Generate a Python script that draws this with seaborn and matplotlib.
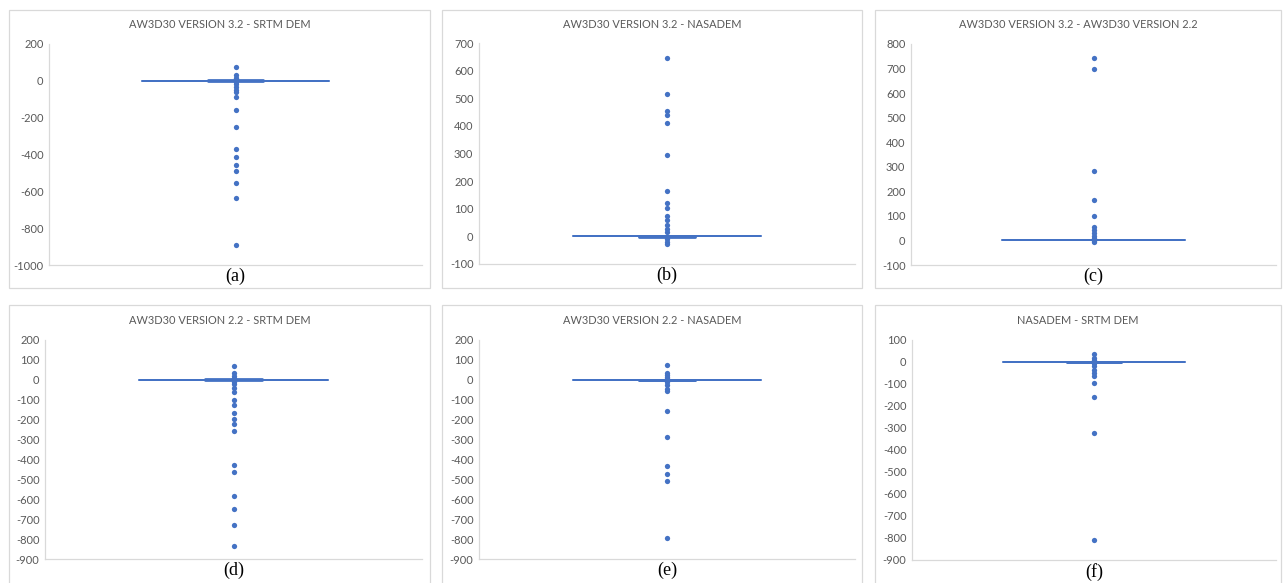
import matplotlib
matplotlib.use('Agg')
import matplotlib.pyplot as plt
import matplotlib.patches as patches
import seaborn as sns

# Titles and panel letters
titles = ['AW3D30 VERSION 3.2 - SRTM DEM', 'AW3D30 VERSION 3.2 - NASADEM',
          'AW3D30 VERSION 3.2 - AW3D30 VERSION 2.2', 'AW3D30 VERSION 2.2 - SRTM DEM',
          'AW3D30 VERSION 2.2 - NASADEM', 'NASADEM - SRTM DEM']
letters = ['(a)', '(b)', '(c)', '(d)', '(e)', '(f)']

# Dense cluster of differences near zero (the flat box)
core = [-3, -3, -2, -2, -2, -2, -1, -1, -1, -1, -1, -1, -1, -1, 0, 0, 0, 0, 0, 0,
        0, 0, 0, 0, 0, 0, 0, 0, 0, 0, 0, 0, 0, 0, 0, 0, 0, 0, 0, 0,
        0, 0, 0, 0, 0, 0, 1, 1, 1, 1, 1, 1, 1, 1, 2, 2, 2, 2, 3, 3]
core_flat = [0, 0, 0, 0, 0, 0, 0, 0, 0, 0, 0, 0, 0, 0, 0, 0, 0, 0, 0, 0,
             0, 0, 0, 0, 0, 0, 0, 0, 0, 0, 0, 0, 0, 0, 0, 0, 0, 0, 0, 0]

# Outliers
out_a = [73, 31, 18, 8, -8, -18, -36, -51, -63, -90, -160, -250, -372, -412, -455, -490, -555, -635, -890]
out_b = [647, 516, 454, 439, 409, 295, 163, 122, 102, 74, 58, 41, 28, 16, -8, -19, -29]
out_c = [743, 698, 282, 163, 100, 54, 43, 31, 19, 10, -4, -7]
out_d = [68, 36, 20, 10, -9, -22, -39, -61, -101, -126, -166, -195, -220, -256, -429, -462, -586, -651, -730, -835]
out_e = [73, 36, 23, 12, -11, -28, -44, -54, -158, -288, -434, -471, -506, -795]
out_f = [35, 17, 8, -6, -18, -36, -52, -64, -97, -158, -323, -808]

series = [core + out_a, core + out_b, core_flat + out_c,
          core + out_d, core + out_e, core + out_f]
y_ranges = [(-1000, 200, 200), (-100, 700, 100), (-100, 800, 100),
            (-900, 200, 100), (-900, 200, 100), (-900, 100, 100)]

W, H = 1283, 583
blue = '#4472C4'
grey_line = '#d9d9d9'
grey_text = '#595959'

# pixel boxes: panel border (x0, y0, x1, y1) and plot area (x0, y0, x1, y1)
borders = [(9, 10, 430, 288), (442, 10, 862, 288), (875, 10, 1281, 288),
           (9, 305, 430, 590), (442, 305, 862, 590), (875, 305, 1281, 590)]
areas = [(49, 44, 422, 265), (479, 43, 855, 264), (911, 44, 1276, 265),
         (45, 340, 422, 559), (479, 340, 855, 559), (912, 340, 1276, 560)]

sns.set_style('white')
plt.rcParams['font.family'] = ['Lato', 'DejaVu Sans']
plt.rcParams['axes.unicode_minus'] = False

fig = plt.figure(figsize=(W / 100, H / 100), dpi=100)

for i in range(6):
    bx0, by0, bx1, by1 = borders[i]
    fig.add_artist(patches.Rectangle((bx0 / W, 1 - by1 / H), (bx1 - bx0) / W, (by1 - by0) / H,
                                     transform=fig.transFigure, fill=False,
                                     edgecolor=grey_line, linewidth=0.9))
    fig.text((bx0 + bx1) / 2 / W, 1 - (by0 + 15) / H, titles[i], ha='center', va='center',
             fontsize=7.9, color=grey_text)

    x0, y0, x1, y1 = areas[i]
    ax = fig.add_axes([x0 / W, 1 - y1 / H, (x1 - x0) / W, (y1 - y0) / H])
    # the flat panel (c) shows no separate whisker caps
    cap_lw = 1.1 if i == 2 else 2.0
    sns.boxplot(y=series[i], ax=ax, width=0.5, fill=False, color=blue, linecolor=blue,
                linewidth=1.1, whis=1.5, capwidths=0.15,
                capprops=dict(linewidth=cap_lw, color=blue),
                flierprops=dict(marker='o', markersize=3.8, markerfacecolor=blue,
                                markeredgecolor=blue, markeredgewidth=0))
    lo, hi, step = y_ranges[i]
    ax.set_ylim(lo, hi)
    ax.set_yticks(range(lo, hi + 1, step))
    ax.set_xlim(-0.5, 0.5)
    ax.set_xticks([])
    ax.set_ylabel('')
    ax.tick_params(axis='y', length=0, pad=4, labelsize=8, labelcolor=grey_text)
    for s in ['top', 'right']:
        ax.spines[s].set_visible(False)
    for s in ['left', 'bottom']:
        ax.spines[s].set_color(grey_line)
        ax.spines[s].set_linewidth(0.9)
    ax.set_xlabel(letters[i], family=['Liberation Serif', 'DejaVu Serif'], fontsize=13,
                  color='black', labelpad=2)

fig.savefig('out.png', dpi=100)
